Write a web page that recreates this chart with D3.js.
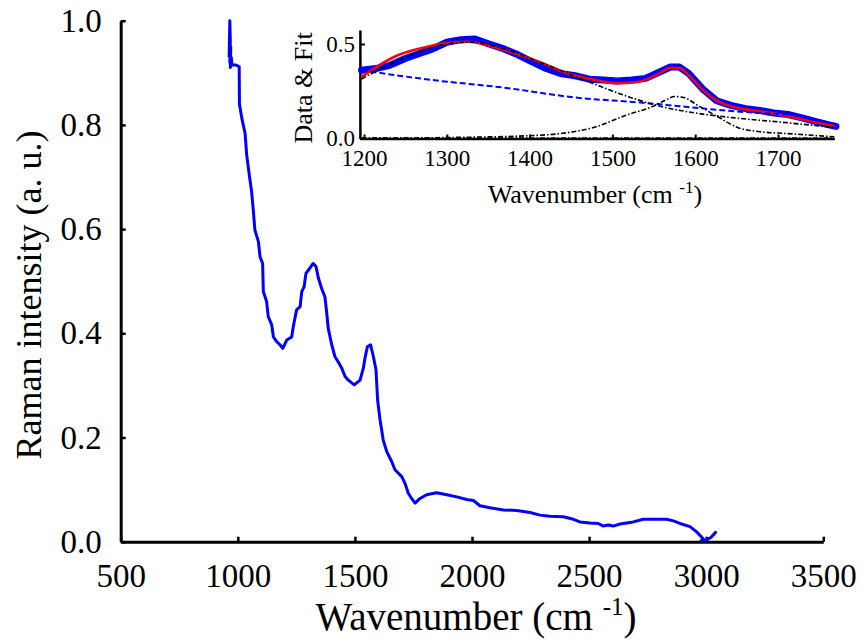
<!DOCTYPE html>
<html>
<head>
<meta charset="utf-8">
<script src="https://cdn.jsdelivr.net/npm/d3@7"></script>
<style>
  html, body { margin: 0; padding: 0; background: #fff; }
  svg { display: block; }
  text { font-family: "Liberation Serif", "Times New Roman", serif; fill: #000; }
</style>
</head>
<body>
<svg id="chart" width="863" height="643"></svg>
<script>
// Full Raman spectrum (wavenumber in cm^-1, normalised intensity)
const spectrumWave = [963, 966, 968, 966, 970, 968, 972, 975, 990, 1006, 1007, 1017, 1031, 1038, 1049, 1059, 1066, 1073, 1088, 1095, 1106, 1109, 1123, 1130, 1145, 1152, 1166, 1180, 1192, 1209, 1230, 1237, 1251, 1266, 1273, 1283, 1291, 1301, 1322, 1334, 1344, 1358, 1372, 1380, 1386, 1401, 1415, 1429, 1444, 1458, 1472, 1497, 1522, 1536, 1543, 1553, 1567, 1579, 1590, 1597, 1607, 1621, 1636, 1657, 1671, 1700, 1714, 1728, 1742, 1757, 1778, 1806, 1849, 1892, 1935, 1977, 2006, 2034, 2077, 2134, 2191, 2248, 2290, 2333, 2390, 2433, 2461, 2504, 2539, 2561, 2582, 2603, 2632, 2660, 2689, 2731, 2774, 2831, 2860, 2888, 2931, 2959, 2988, 2978, 3000, 3020, 3040, 3030];
const spectrumIntensity = [0.93, 1.0, 0.96, 0.92, 0.95, 0.91, 0.93, 0.915, 0.915, 0.912, 0.84, 0.813, 0.784, 0.742, 0.704, 0.672, 0.637, 0.598, 0.576, 0.547, 0.534, 0.48, 0.461, 0.432, 0.416, 0.393, 0.384, 0.378, 0.371, 0.387, 0.393, 0.413, 0.445, 0.451, 0.48, 0.489, 0.515, 0.521, 0.534, 0.528, 0.506, 0.486, 0.47, 0.438, 0.41, 0.378, 0.355, 0.345, 0.333, 0.317, 0.31, 0.301, 0.31, 0.333, 0.352, 0.374, 0.378, 0.355, 0.33, 0.272, 0.235, 0.195, 0.173, 0.154, 0.138, 0.125, 0.112, 0.093, 0.083, 0.074, 0.083, 0.09, 0.094, 0.09, 0.086, 0.081, 0.079, 0.069, 0.065, 0.061, 0.06, 0.056, 0.051, 0.049, 0.048, 0.043, 0.038, 0.036, 0.035, 0.03, 0.032, 0.03, 0.034, 0.036, 0.038, 0.043, 0.043, 0.043, 0.04, 0.035, 0.029, 0.019, 0.005, 0.002, 0.003, 0.008, 0.018, 0.012];

const mainXTicks = [500, 1000, 1500, 2000, 2500, 3000, 3500];
const mainYTicks = [0.0, 0.2, 0.4, 0.6, 0.8, 1.0];

// D/G band region: measured data, total fit, background and components
const dataWave = [1197, 1214, 1231, 1249, 1266, 1283, 1300, 1317, 1334, 1351, 1369, 1386, 1403, 1420, 1437, 1455, 1472, 1489, 1506, 1523, 1540, 1557, 1570, 1581, 1592, 1609, 1626, 1643, 1661, 1678, 1695, 1712, 1729, 1746, 1763, 1770];
const dataValue = [0.361, 0.37, 0.387, 0.422, 0.448, 0.474, 0.509, 0.523, 0.526, 0.5, 0.474, 0.443, 0.405, 0.37, 0.344, 0.332, 0.314, 0.309, 0.304, 0.309, 0.318, 0.352, 0.378, 0.378, 0.344, 0.262, 0.2, 0.175, 0.158, 0.148, 0.135, 0.127, 0.109, 0.089, 0.071, 0.064];

const fitWave = [1197, 1240, 1274, 1300, 1326, 1351, 1377, 1412, 1446, 1480, 1506, 1532, 1553, 1570, 1581, 1592, 1609, 1626, 1652, 1678, 1712, 1738, 1768];
const fitValue = [0.326, 0.439, 0.483, 0.505, 0.512, 0.491, 0.457, 0.405, 0.344, 0.309, 0.292, 0.3, 0.335, 0.373, 0.373, 0.335, 0.257, 0.2, 0.161, 0.144, 0.118, 0.092, 0.066];

const backgroundWave = [1197, 1283, 1369, 1455, 1540, 1583, 1648, 1720];
const backgroundValue = [0.361, 0.309, 0.269, 0.217, 0.188, 0.17, 0.144, 0.125];

const dBandWave = [1197, 1250, 1300, 1330, 1360, 1400, 1440, 1480, 1520, 1560, 1600, 1650, 1700, 1768];
const dBandValue = [0.315, 0.43, 0.5, 0.51, 0.485, 0.425, 0.355, 0.285, 0.22, 0.168, 0.135, 0.108, 0.088, 0.058];

const gBandWave = [1197, 1300, 1400, 1437, 1476, 1519, 1549, 1565, 1575, 1585, 1605, 1626, 1652, 1678, 1712, 1768];
const gBandValue = [0.0, 0.005, 0.015, 0.026, 0.057, 0.127, 0.17, 0.205, 0.222, 0.218, 0.17, 0.118, 0.057, 0.036, 0.026, 0.009];

const flatWave = [1197, 1768];
const flatValue = [0.003, 0.003];

const insetXTicks = [1200, 1300, 1400, 1500, 1600, 1700];
const insetYTicks = [0.0, 0.5];

const zip = (xs, ys) => xs.map((x, i) => [x, ys[i]]);
const svg = d3.select("#chart");

// ---------- main panel ----------
const x = d3.scaleLinear().domain([500, 3500]).range([120.7, 823.3]);
const y = d3.scaleLinear().domain([0, 1]).range([541.7, 20.7]);

const xAxis = svg.append("g")
  .attr("transform", `translate(0,${y(0)})`)
  .call(d3.axisBottom(x).tickValues(mainXTicks).tickFormat(d3.format("d"))
    .tickSizeInner(-5).tickSizeOuter(0).tickPadding(22));
const yAxis = svg.append("g")
  .attr("transform", `translate(${x(500)},0)`)
  .call(d3.axisLeft(y).tickValues(mainYTicks).tickFormat(d3.format(".1f"))
    .tickSizeInner(-5).tickSizeOuter(0).tickPadding(19));

[xAxis, yAxis].forEach(g => {
  g.select(".domain").attr("stroke", "#000").attr("stroke-width", 3);
  g.selectAll(".tick line").attr("stroke", "#000").attr("stroke-width", 2.5);
  g.selectAll(".tick text").style("font-size", "33px")
    .style("font-family", '"Liberation Serif", "Times New Roman", serif');
});

svg.append("path")
  .datum(zip(spectrumWave, spectrumIntensity))
  .attr("fill", "none")
  .attr("stroke", "#0000ff")
  .attr("stroke-width", 3)
  .attr("stroke-linejoin", "round")
  .attr("d", d3.line().x(d => x(d[0])).y(d => y(d[1])));

// axis titles
const xTitle = svg.append("text")
  .attr("x", 476).attr("y", 630)
  .attr("text-anchor", "middle")
  .style("font-size", "39px");
xTitle.append("tspan").text("Wavenumber (cm ");
xTitle.append("tspan").attr("dy", -15).style("font-size", "25px").text("-1");
xTitle.append("tspan").attr("dy", 15).text(")");

svg.append("text")
  .attr("transform", "translate(41,295) rotate(-90)")
  .attr("text-anchor", "middle")
  .style("font-size", "36px")
  .text("Raman intensity (a. u.)");

// ---------- inset panel ----------
const ix = d3.scaleLinear().domain([1195, 1768]).range([359.9, 834.3]);
const iy = d3.scaleLinear().domain([0, 0.574]).range([138.5, 30]);

const ixAxis = svg.append("g")
  .attr("transform", `translate(0,${iy(0)})`)
  .call(d3.axisBottom(ix).tickValues(insetXTicks).tickFormat(d3.format("d"))
    .tickSizeInner(-4).tickSizeOuter(0).tickPadding(11));
const iyAxis = svg.append("g")
  .attr("transform", `translate(${ix(1195)},0)`)
  .call(d3.axisLeft(iy).tickValues(insetYTicks).tickFormat(d3.format(".1f"))
    .tickSizeInner(-5).tickSizeOuter(0).tickPadding(5));

[ixAxis, iyAxis].forEach(g => {
  g.select(".domain").attr("stroke", "#000").attr("stroke-width", 2.5);
  g.selectAll(".tick line").attr("stroke", "#000").attr("stroke-width", 2);
  g.selectAll(".tick text").style("font-size", "23px")
    .style("font-family", '"Liberation Serif", "Times New Roman", serif');
});

const iline = d3.line().curve(d3.curveMonotoneX).x(d => ix(d[0])).y(d => iy(d[1]));

svg.append("path")
  .datum(zip(dataWave, dataValue))
  .attr("fill", "none").attr("stroke", "#0000ff")
  .attr("stroke-width", 7).attr("stroke-linecap", "round").attr("stroke-linejoin", "round")
  .attr("d", d3.line().x(d => ix(d[0])).y(d => iy(d[1])));

svg.append("path")
  .datum(zip(fitWave, fitValue))
  .attr("fill", "none").attr("stroke", "#ff0000").attr("stroke-width", 2.5)
  .attr("d", iline);

svg.append("path")
  .datum(zip(backgroundWave, backgroundValue))
  .attr("fill", "none").attr("stroke", "#0000ff").attr("stroke-width", 2)
  .attr("stroke-dasharray", "6,3")
  .attr("d", iline);

[[dBandWave, dBandValue], [gBandWave, gBandValue], [flatWave, flatValue]].forEach(([w, v]) => {
  svg.append("path")
    .datum(zip(w, v))
    .attr("fill", "none").attr("stroke", "#000").attr("stroke-width", 1.6)
    .attr("stroke-dasharray", "5,2,1.5,2")
    .attr("d", iline);
});

const ixTitle = svg.append("text")
  .attr("x", 595).attr("y", 203)
  .attr("text-anchor", "middle")
  .style("font-size", "26px");
ixTitle.append("tspan").text("Wavenumber (cm ");
ixTitle.append("tspan").attr("dy", -10).style("font-size", "17px").text("-1");
ixTitle.append("tspan").attr("dy", 10).text(")");

svg.append("text")
  .attr("transform", "translate(312,88) rotate(-90)")
  .attr("text-anchor", "middle")
  .style("font-size", "26px")
  .text("Data & Fit");
</script>
</body>
</html>
